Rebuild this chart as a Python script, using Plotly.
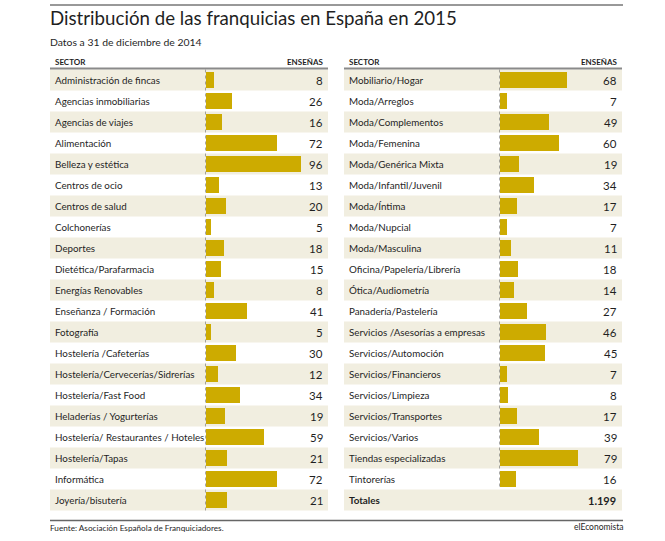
import plotly.graph_objects as go

W, H = 665, 541

left_sectors = [
    "Administración de fincas", "Agencias inmobiliarias", "Agencias de viajes",
    "Alimentación", "Belleza y estética", "Centros de ocio", "Centros de salud",
    "Colchonerías", "Deportes", "Dietética/Parafarmacia", "Energías Renovables",
    "Enseñanza / Formación", "Fotografía", "Hostelería /Cafeterías",
    "Hostelería/Cervecerías/Sidrerías", "Hostelería/Fast Food",
    "Heladerías / Yogurterías", "Hostelería/ Restaurantes / Hoteles",
    "Hostelería/Tapas", "Informática", "Joyería/bisutería",
]
left_values = [8, 26, 16, 72, 96, 13, 20, 5, 18, 15, 8, 41, 5, 30, 12, 34, 19, 59, 21, 72, 21]

right_sectors = [
    "Mobiliario/Hogar", "Moda/Arreglos", "Moda/Complementos", "Moda/Femenina",
    "Moda/Genérica Mixta", "Moda/Infantil/Juvenil", "Moda/Íntima", "Moda/Nupcial",
    "Moda/Masculina", "Oficina/Papelería/Librería", "Ótica/Audiometría",
    "Panadería/Pastelería", "Servicios /Asesorías a empresas", "Servicios/Automoción",
    "Servicios/Financieros", "Servicios/Limpieza", "Servicios/Transportes",
    "Servicios/Varios", "Tiendas especializadas", "Tintorerías",
]
right_values = [68, 7, 49, 60, 19, 34, 17, 7, 11, 18, 14, 27, 46, 45, 7, 8, 17, 39, 79, 16]

total_label = "Totales"
total_value = "1.199"

title = "Distribución de las franquicias en España en 2015"
subtitle = "Datos a 31 de diciembre de 2014"
source = "Fuente: Asociación Española de Franquiciadores."
brand = "elEconomista"
col_sector = "SECTOR"
col_count = "ENSEÑAS"

FONT = "Lato, Roboto, sans-serif"
GOLD = "#cdab00"
BEIGE = "#f1eee0"
TXT = "#1f1f1f"

def px(x):
    return x / W

def py(y):
    return 1 - y / H

# row i centre at pixel 80 + 21*i
ROW0, PITCH = 80.0, 21.0
y_range = [(H - ROW0) / PITCH, -ROW0 / PITCH]
scale = 0.99  # px per unit

L0, L1 = 205.5, 323
R0, R1 = 499.5, 617

fig = go.Figure()
fig.add_trace(go.Bar(
    x=left_values, y=list(range(len(left_values))), orientation="h",
    width=0.77, marker=dict(color=GOLD, line=dict(width=0)),
    xaxis="x", yaxis="y", hoverinfo="skip", showlegend=False,
))
fig.add_trace(go.Bar(
    x=right_values, y=list(range(len(right_values))), orientation="h",
    width=0.77, marker=dict(color=GOLD, line=dict(width=0)),
    xaxis="x2", yaxis="y", hoverinfo="skip", showlegend=False,
))

shapes = []
annotations = []

n_left = len(left_sectors)
n_right = len(right_sectors) + 1
for i in range(0, n_left, 2):
    shapes.append(dict(type="rect", xref="paper", yref="y", x0=px(50), x1=px(328),
                       y0=i - 0.5, y1=i + 0.5, fillcolor=BEIGE, line=dict(width=0), layer="below"))
for i in range(0, n_right, 2):
    shapes.append(dict(type="rect", xref="paper", yref="y", x0=px(344), x1=px(622),
                       y0=i - 0.5, y1=i + 0.5, fillcolor=BEIGE, line=dict(width=0), layer="below"))

shapes.append(dict(type="line", xref="x", yref="y", x0=0, x1=0, y0=-0.5, y1=n_left - 0.5,
                   line=dict(color="#555", width=1, dash="dot")))
shapes.append(dict(type="line", xref="x2", yref="y", x0=0, x1=0, y0=-0.5, y1=len(right_sectors) - 0.5,
                   line=dict(color="#555", width=1, dash="dot")))

shapes.append(dict(type="line", xref="paper", yref="paper", x0=px(50), x1=px(623), y0=py(5), y1=py(5),
                   line=dict(color="#333", width=1)))
for a, b in [(50, 328), (344, 622)]:
    shapes.append(dict(type="line", xref="paper", yref="paper", x0=px(a), x1=px(b), y0=py(68.5), y1=py(68.5),
                       line=dict(color="#8a8a8a", width=2)))
shapes.append(dict(type="line", xref="paper", yref="paper", x0=px(50), x1=px(623), y0=py(520.5), y1=py(520.5),
                   line=dict(color="#666", width=1.5)))

def ann(text, x, y, yref="paper", xanchor="left", size=11.5, bold=False, color=TXT):
    if bold:
        text = "<b>" + text + "</b>"
    annotations.append(dict(text=text, x=x, y=y, xref="paper", yref=yref, xanchor=xanchor,
                            yanchor="middle", showarrow=False, font=dict(family=FONT, size=size, color=color)))

LBL = 9.8
ann(title, px(48), py(18), size=18.7)
ann(subtitle, px(48), py(42), size=10.4)
ann(col_sector, px(53), py(62), size=8, bold=True)
ann(col_count, px(L1 + 2), py(62), xanchor="right", size=8, bold=True)
ann(col_sector, px(347), py(62), size=8, bold=True)
ann(col_count, px(R1 + 2), py(62), xanchor="right", size=8, bold=True)

for i, (s, v) in enumerate(zip(left_sectors, left_values)):
    ann(s, px(53), i, yref="y", size=LBL)
    ann(str(v), px(L1 + 2), i, yref="y", xanchor="right", size=11.5)
for i, (s, v) in enumerate(zip(right_sectors, right_values)):
    ann(s, px(347), i, yref="y", size=LBL)
    ann(str(v), px(R1 + 2), i, yref="y", xanchor="right", size=11.5)
ann(total_label, px(347), len(right_sectors), yref="y", size=LBL, bold=True)
ann(total_value, px(R1 + 1), len(right_sectors), yref="y", xanchor="right", size=11, bold=True)

ann(source, px(48), py(528), size=8.2)
ann(brand, px(625), py(527), xanchor="right", size=8.5)

fig.update_layout(
    width=W, height=H, margin=dict(l=0, r=0, t=0, b=0),
    paper_bgcolor="white", plot_bgcolor="rgba(0,0,0,0)",
    xaxis=dict(domain=[px(L0), px(L1)], range=[0, (L1 - L0) / scale], visible=False, fixedrange=True),
    xaxis2=dict(domain=[px(R0), px(R1)], range=[0, (R1 - R0) / scale], visible=False, fixedrange=True),
    yaxis=dict(domain=[0, 1], range=y_range, visible=False, fixedrange=True),
    shapes=shapes, annotations=annotations, bargap=0, showlegend=False,
)

fig.write_html("out.html", config={"displayModeBar": False},
               post_script="document.body.style.margin='0';document.body.style.overflow='hidden';")
